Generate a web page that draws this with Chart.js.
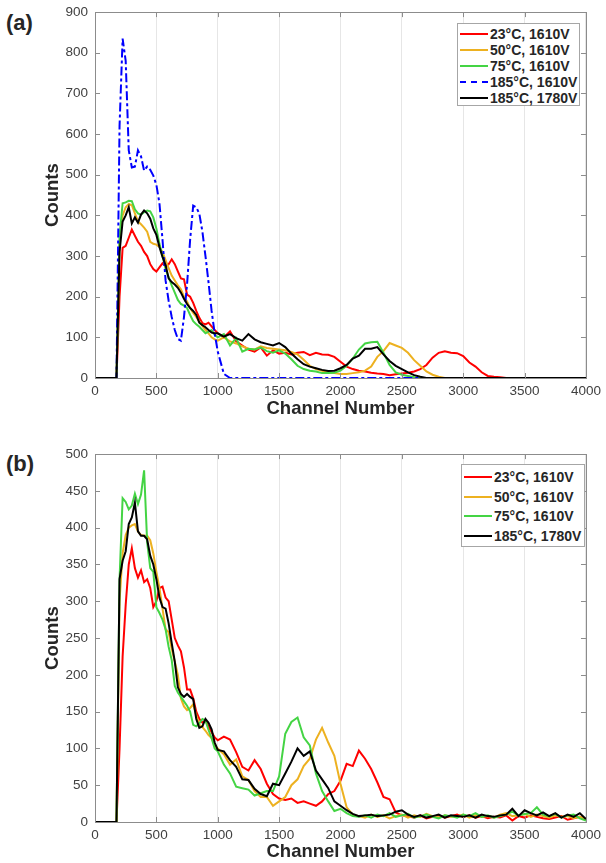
<!DOCTYPE html>
<html>
<head>
<meta charset="utf-8">
<script src="https://cdn.jsdelivr.net/npm/chart.js@4.4.1/dist/chart.umd.min.js"></script>
<style>
body { margin:0; background:#fff; width:606px; height:863px; position:relative; overflow:hidden; font-family:"Liberation Sans", Arial, sans-serif; }
.wrap { position:absolute; left:0; width:606px; }
.tag { position:absolute; left:6px; font-weight:bold; font-size:22px; color:#262626; line-height:26px; }
.legend { position:absolute; background:#fff; border:1px solid #a6a6a6; font-weight:bold; font-size:14px; color:#262626; box-sizing:border-box; padding-top:2px; }
.legend .row { display:flex; align-items:center; white-space:nowrap; }
.legend .sample { width:28px; height:0; border-top-width:2.5px; border-top-style:solid; margin:0 2px 0 2px; }
</style>
</head>
<body>
<div class="tag" style="top:10px">(a)</div>
<div class="tag" style="top:451px">(b)</div>
<div class="wrap" style="top:-3px;height:423px"><canvas id="chA"></canvas></div>
<div class="wrap" style="top:439px;height:424px"><canvas id="chB"></canvas></div>
<div class="legend" id="legA" style="left:457px;top:23px;width:123px;height:83px"></div>
<div class="legend" id="legB" style="left:461px;top:464px;width:124px;height:83px"></div>
<script>
// channel bins shared by every curve
var channels = [0,50,100,150,
  175,200,225,250,275,300,325,350,375,
  400,425,450,475,500,525,550,575,600,
  625,650,675,700,725,750,775,800,825,
  850,875,900,925,950,975,1000,
  1050,1100,1150,1200,1250,1300,1350,1400,1450,1500,
  1550,1600,1650,1700,1750,1800,1850,1900,1950,2000,
  2050,2100,2150,2200,2250,2300,2350,2400,2450,2500,
  2550,2600,2650,2700,2750,2800,2850,2900,2950,3000,
  3050,3100,3150,3200,3250,3300,3350,3400,3450,3500,
  3550,3600,3650,3700,3750,3800,3850,3900,3950,4000];

var xTicks = [0,500,1000,1500,2000,2500,3000,3500,4000];

// (a) counts
var redA = [0,0,0,0,
  0,200,320,325,345,365,350,335,325,
  310,300,280,268,262,272,282,275,280,
  292,280,262,245,243,205,200,185,165,
  148,135,132,136,127,118,110,
  100,115,90,80,70,65,75,55,68,60,
  62,58,62,64,56,62,58,57,52,40,
  28,22,18,16,13,11,10,7,9,11,
  13,16,22,32,50,62,66,62,61,54,
  38,28,14,5,3,2,0,0,0,0,
  0,0,0,0,0,0,0,0,0,0];
var orangeA = [0,0,0,0,
  0,330,400,420,428,425,405,385,378,
  370,360,335,330,328,322,310,290,270,
  252,240,228,218,200,188,172,160,150,
  138,128,118,110,100,95,92,
  100,90,85,78,72,70,78,74,72,70,
  68,64,58,45,30,22,18,14,12,10,
  10,12,14,18,28,52,66,86,80,74,
  62,44,30,16,8,3,0,0,0,0,
  0,0,0,0,0,0,0,0,0,0,
  0,0,0,0,0,0,0,0,0,0];
var greenA = [0,0,0,0,
  0,350,430,432,436,435,415,405,402,
  408,412,410,395,368,330,300,268,248,
  228,210,192,182,178,172,155,140,132,
  126,118,110,114,118,106,100,
  108,80,98,65,72,70,75,66,62,68,
  60,46,30,22,18,16,12,12,13,18,
  30,48,70,85,88,89,62,32,14,8,
  5,2,0,0,0,0,0,0,0,0,
  0,0,0,0,0,0,0,0,0,0,
  0,0,0,0,0,0,0,0,0,0];
var blueA = [0,0,0,0,
  0,620,835,780,560,518,520,560,545,
  510,520,512,498,475,430,340,240,190,
  150,118,96,92,150,230,340,424,420,
  404,360,300,235,165,110,65,
  10,0,0,0,0,0,0,0,0,0,
  0,0,0,0,0,0,0,0,0,0,
  0,0,0,0,0,0,0,0,0,0,
  0,0,0,0,0,0,0,0,0,0,
  0,0,0,0,0,0,0,0,0,0,
  0,0,0,0,0,0,0,0,0,0];
var blackA = [0,0,0,0,
  0,310,385,400,420,380,395,382,402,
  412,405,392,368,352,322,298,278,245,
  236,230,222,210,195,182,172,165,155,
  136,130,125,118,112,110,110,
  102,108,98,92,108,95,88,84,80,86,
  76,60,46,34,28,24,20,17,18,24,
  32,48,55,72,72,76,58,42,30,22,
  14,7,3,0,0,0,0,0,0,0,
  0,0,0,0,0,0,0,0,0,0,
  0,0,0,0,0,0,0,0,0,0];

// (b) counts
var redB = [0,0,0,0,
  0,100,225,295,350,372,345,332,342,
  326,330,318,292,300,318,320,305,300,
  275,250,240,232,210,180,180,168,150,
  140,135,138,130,122,115,111,
  116,112,95,75,70,84,72,52,38,32,
  30,32,26,28,25,22,28,38,42,56,
  79,76,97,86,72,54,34,31,13,9,
  8,6,9,5,7,9,6,8,10,7,
  9,6,8,5,7,6,9,2,8,6,
  9,7,5,4,6,8,3,5,7,4];
var orangeB = [0,0,0,0,
  0,300,365,390,400,403,405,395,390,
  389,389,383,365,340,318,290,262,258,
  235,218,200,168,157,152,155,160,145,
  132,129,124,118,114,104,100,
  92,78,85,62,57,42,34,34,22,28,
  34,50,58,76,86,112,128,108,90,52,
  20,10,8,6,10,7,9,5,8,10,
  6,9,7,11,8,6,9,7,8,10,
  6,9,7,8,6,10,12,8,9,11,
  7,10,8,6,9,7,8,5,7,3];
var greenB = [0,0,0,0,
  0,330,440,435,425,430,446,432,445,
  478,380,345,340,292,284,275,262,238,
  220,185,176,170,164,158,150,132,130,
  134,140,138,125,114,100,96,
  78,66,48,46,44,36,39,42,42,62,
  120,136,142,115,104,66,42,28,15,18,
  12,8,7,9,6,10,8,12,7,9,
  11,6,8,10,7,5,9,8,6,10,
  8,12,7,9,6,8,10,14,9,11,
  12,20,10,8,11,6,9,10,5,2];
var blackB = [0,0,0,0,
  0,330,355,368,405,414,434,395,389,
  389,384,362,350,330,305,292,290,270,
  243,218,183,174,170,174,170,167,140,
  128,130,140,135,126,108,98,
  96,84,75,58,57,45,38,35,52,50,
  66,82,100,90,96,70,58,46,28,22,
  16,11,8,9,10,8,9,10,14,16,
  10,7,9,6,8,10,6,9,8,7,
  9,6,10,8,7,9,10,18,8,16,
  12,9,13,8,12,6,10,7,12,4];

var labelsA = ['23°C, 1610V','50°C, 1610V','75°C, 1610V','185°C, 1610V','185°C, 1780V'];
var colorsA = ['#ff0000','#edb120','#44d444','#0000ff','#000000'];
var labelsB = ['23°C, 1610V','50°C, 1610V','75°C, 1610V','185°C, 1780V'];
var colorsB = ['#ff0000','#edb120','#44d444','#000000'];

// box round the plot with inward tick marks
var frame = {
  id: 'frame',
  afterDraw: function(chart) {
    var ctx = chart.ctx, a = chart.chartArea;
    var xs = chart.scales.x, ys = chart.scales.y;
    ctx.save();
    ctx.strokeStyle = '#8c8c8c';
    ctx.lineWidth = 1;
    ctx.beginPath();
    xs.ticks.forEach(function(t) {
      var px = Math.round(xs.getPixelForValue(t.value)) + 0.5;
      ctx.moveTo(px, a.top); ctx.lineTo(px, a.top + 5);
      ctx.moveTo(px, a.bottom); ctx.lineTo(px, a.bottom - 5);
    });
    ys.ticks.forEach(function(t) {
      var py = Math.round(ys.getPixelForValue(t.value)) + 0.5;
      ctx.moveTo(a.left, py); ctx.lineTo(a.left + 5, py);
      ctx.moveTo(a.right, py); ctx.lineTo(a.right - 5, py);
    });
    ctx.stroke();
    ctx.strokeRect(Math.round(a.left) + 0.5, Math.round(a.top) + 0.5, Math.round(a.width), Math.round(a.height));
    ctx.restore();
  }
};

function pts(vals) {
  return channels.map(function(c, i) { return {x: c, y: vals[i]}; });
}

function makeChart(id, series, labels, colors, yMax, yStep, xHeight) {
  var sets = series.map(function(s, i) {
    var dashed = labels[i] === '185°C, 1610V';
    return {
      label: labels[i],
      data: pts(s),
      borderColor: colors[i],
      borderWidth: 2,
      borderDash: dashed ? [9,3,3,3] : [],
      pointRadius: 0,
      tension: 0,
      fill: false,
      order: series.length - i
    };
  });
  return new Chart(document.getElementById(id), {
    type: 'line',
    data: {datasets: sets},
    options: {
      responsive: true,
      maintainAspectRatio: false,
      animation: false,
      layout: {padding: {top: 14, right: 16, left: 0, bottom: 0}},
      plugins: {legend: {display: false}, tooltip: {enabled: false}},
      scales: {
        x: {
          type: 'linear', min: 0, max: 4000,
          afterBuildTicks: function(s) { s.ticks = xTicks.map(function(v) { return {value: v}; }); },
          afterFit: function(s) { s.height = xHeight; },
          grid: {color: '#e6e6e6', drawTicks: false},
          border: {display: false},
          ticks: {padding: 5, color: '#404040', font: {family: 'Liberation Sans', size: 13.5}, maxRotation: 0,
                  callback: function(v) { return String(v); }},
          title: {display: true, text: 'Channel Number', color: '#262626',
                  font: {family: 'Liberation Sans', size: 18.5, weight: 'bold'}, padding: {top: 0, bottom: 0}}
        },
        y: {
          min: 0, max: yMax,
          ticks: {stepSize: yStep, padding: 7, color: '#404040', font: {family: 'Liberation Sans', size: 13.5}},
          afterFit: function(s) { s.width = 95; },
          grid: {drawOnChartArea: false, drawTicks: false},
          border: {display: false},
          title: {display: true, text: 'Counts', color: '#262626',
                  font: {family: 'Liberation Sans', size: 18.5, weight: 'bold'}, padding: {top: 42, bottom: 0}}
        }
      }
    },
    plugins: [frame]
  });
}

function makeLegend(id, labels, colors, rowH) {
  var box = document.getElementById(id);
  labels.forEach(function(l, i) {
    var row = document.createElement('div');
    row.className = 'row';
    row.style.height = rowH + 'px';
    var s = document.createElement('div');
    s.className = 'sample';
    s.style.borderTopColor = colors[i];
    if (l === '185°C, 1610V') s.style.borderTopStyle = 'dashed';
    var t = document.createElement('span');
    t.textContent = l;
    row.appendChild(s);
    row.appendChild(t);
    box.appendChild(row);
  });
}

makeChart('chA', [redA, orangeA, greenA, blueA, blackA], labelsA, colorsA, 900, 100, 42);
makeChart('chB', [redB, orangeB, greenB, blackB], labelsB, colorsB, 500, 50, 41);
makeLegend('legA', labelsA, colorsA, 16);
makeLegend('legB', labelsB, colorsB, 19.7);
</script>
</body>
</html>
